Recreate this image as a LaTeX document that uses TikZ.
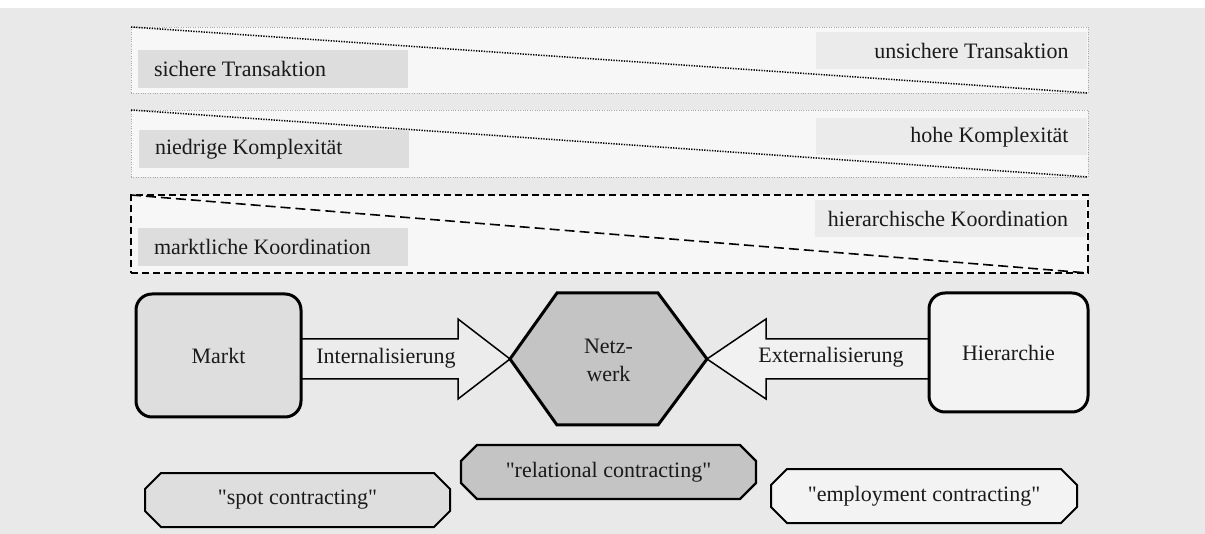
\documentclass[tikz,border=0pt]{standalone}
\usepackage{fontspec}
\setmainfont{Liberation Serif}[Ligatures=TeXOff]
\usetikzlibrary{calc}
\pgfdeclarelayer{bg}
\pgfdeclarelayer{mid}
\pgfsetlayers{bg,mid,main}
\definecolor{canvas}{HTML}{E9E9E9}
\definecolor{bandfill}{HTML}{F7F7F7}
\definecolor{tagdark}{HTML}{DDDDDD}
\definecolor{taglight}{HTML}{EBEBEB}
\definecolor{marktfill}{HTML}{DEDEDE}
\definecolor{netzfill}{HTML}{C4C4C4}
\definecolor{hierfill}{HTML}{F3F3F3}
\definecolor{arrowfillA}{HTML}{ECECEC}
\definecolor{arrowfillB}{HTML}{F1F1F1}
\definecolor{dotgray}{HTML}{A8A8A8}
\definecolor{ink}{HTML}{1A1A1A}
\begin{document}
\begin{tikzpicture}[x=1pt,y=-1pt,
  every node/.style={font=\fontsize{22}{26}\selectfont, text=ink, inner sep=0pt, outer sep=0pt},
  band/.style={draw=dotgray, fill=bandfill, line width=0.8pt, dash pattern=on 0.7pt off 1.7pt,
    anchor=north west, minimum width=957pt},
  banddiag/.style={draw=black, line width=1.5pt, dash pattern=on 1.3pt off 1.3pt},
  dashband/.style={draw=black, fill=bandfill, line width=1.6pt, dash pattern=on 7pt off 4pt,
    anchor=north west, minimum width=957pt},
  dashdiag/.style={draw=black, line width=1.6pt, dash pattern=on 10pt off 5pt},
  tagL/.style={fill=tagdark, anchor=north west, minimum width=270pt, minimum height=38.5pt},
  tagR/.style={fill=taglight, anchor=north east, minimum width=271pt, minimum height=37.5pt},
  tagtextL/.style={anchor=west},
  tagtextR/.style={anchor=east},
  mainbox/.style={draw=black, line width=3pt, rounded corners=16pt},
  blockarrow/.style={draw=black, line width=1.5pt, line join=miter},
  hexline/.style={draw=black, fill=netzfill, line width=3pt, line join=miter},
  octline/.style={draw=black, line width=2pt, line join=miter},
  contract/.style={minimum height=54pt},
  chamfer outline/.style={insert path={
    ($(#1.north west)+(16,0)$) -- ($(#1.north east)+(-16,0)$) --
    ($(#1.north east)+(0,16)$) -- ($(#1.south east)+(0,-16)$) --
    ($(#1.south east)+(-16,0)$) -- ($(#1.south west)+(16,0)$) --
    ($(#1.south west)+(0,-16)$) -- ($(#1.north west)+(0,16)$) -- cycle}},
]
% canvas
\begin{pgfonlayer}{bg}
  \fill[white] (0,0) rectangle (1205,534);
  \fill[canvas] (0,8) rectangle (1205,534);
\end{pgfonlayer}
\useasboundingbox (0,0) rectangle (1205,534);

% scale bands
\node[band, minimum height=66pt] (b1) at (131,27) {};
\draw[banddiag] (b1.north west) -- (b1.south east);
\node[tagL] (sicher) at (138,50) {};
\node[tagtextL] at ($(sicher.west)+(16,0)$) {sichere Transaktion};
\node[tagR] (unsicher) at (1086.5,32) {};
\node[tagtextR] at ($(unsicher.east)+(-18,0)$) {unsichere Transaktion};

\node[band, minimum height=67pt] (b2) at (131,110) {};
\draw[banddiag] (b2.north west) -- (b2.south east);
\node[tagL] (niedrig) at (139,130) {};
\node[tagtextL] at ($(niedrig.west)+(16,0)$) {niedrige Komplexität};
\node[tagR] (hoch) at (1086.5,118) {};
\node[tagtextR] at ($(hoch.east)+(-18,0)$) {hohe Komplexität};

\node[dashband, minimum height=78pt] (b3) at (131,195) {};
\draw[dashdiag] (b3.north west) -- (b3.south east);
\node[tagL] (marktkoord) at (138,228) {};
\node[tagtextL] at ($(marktkoord.west)+(16,0)$) {marktliche Koordination};
\node[tagR] (hierkoord) at (1086,200) {};
\node[tagtextR] at ($(hierkoord.east)+(-18,0)$) {hierarchische Koordination};

% coordination forms
\node[mainbox, fill=marktfill, minimum width=165pt, minimum height=123pt] (markt) at (218.5,355.5) {Markt};
\node[mainbox, fill=hierfill, minimum width=159pt, minimum height=119pt] (hier) at (1008.5,352.5) {Hierarchie};
\node[align=center, font=\fontsize{22}{28}\selectfont] (netz) at (608.5,360) {Netz-\\werk};

\begin{pgfonlayer}{mid}
  \draw[hexline] ($(netz.center)+(-98.5,-1)$) coordinate (netzW) -- ++(47,-66) -- ++(101,0)
    -- ++(49,66) coordinate (netzE) -- ++(-49,66) -- ++(-101,0) -- cycle;
\end{pgfonlayer}

\begin{pgfonlayer}{bg}
  \draw[blockarrow, fill=arrowfillA]
    ($(markt.east |- netzW)+(0,-20)$) -- ($(netzW)+(-52,-20)$) -- ($(netzW)+(-52,-40)$)
    -- (netzW) -- ($(netzW)+(-52,40)$) -- ($(netzW)+(-52,20)$)
    -- ($(markt.east |- netzW)+(0,20)$) -- cycle;
  \draw[blockarrow, fill=arrowfillB]
    ($(hier.west |- netzE)+(0,-20)$) -- ($(netzE)+(59,-20)$) -- ($(netzE)+(59,-40)$)
    -- (netzE) -- ($(netzE)+(59,40)$) -- ($(netzE)+(59,20)$)
    -- ($(hier.west |- netzE)+(0,20)$) -- cycle;
\end{pgfonlayer}
\node (intern) at (386,358) {Internalisierung};
\node (extern) at (831,357) {Externalisierung};

% contract types
\node[contract, minimum width=305pt] (spot) at (297.5,500) {"spot contracting"};
\node[contract, minimum width=295pt] (relational) at (608.5,472) {"relational contracting"};
\node[contract, minimum width=306pt] (employ) at (924,496) {"employment contracting"};
\begin{pgfonlayer}{mid}
  \draw[octline, fill=marktfill, chamfer outline=spot];
  \draw[octline, fill=netzfill, line width=2.2pt, chamfer outline=relational];
  \draw[octline, fill=hierfill, chamfer outline=employ];
\end{pgfonlayer}
\end{tikzpicture}
\end{document}
